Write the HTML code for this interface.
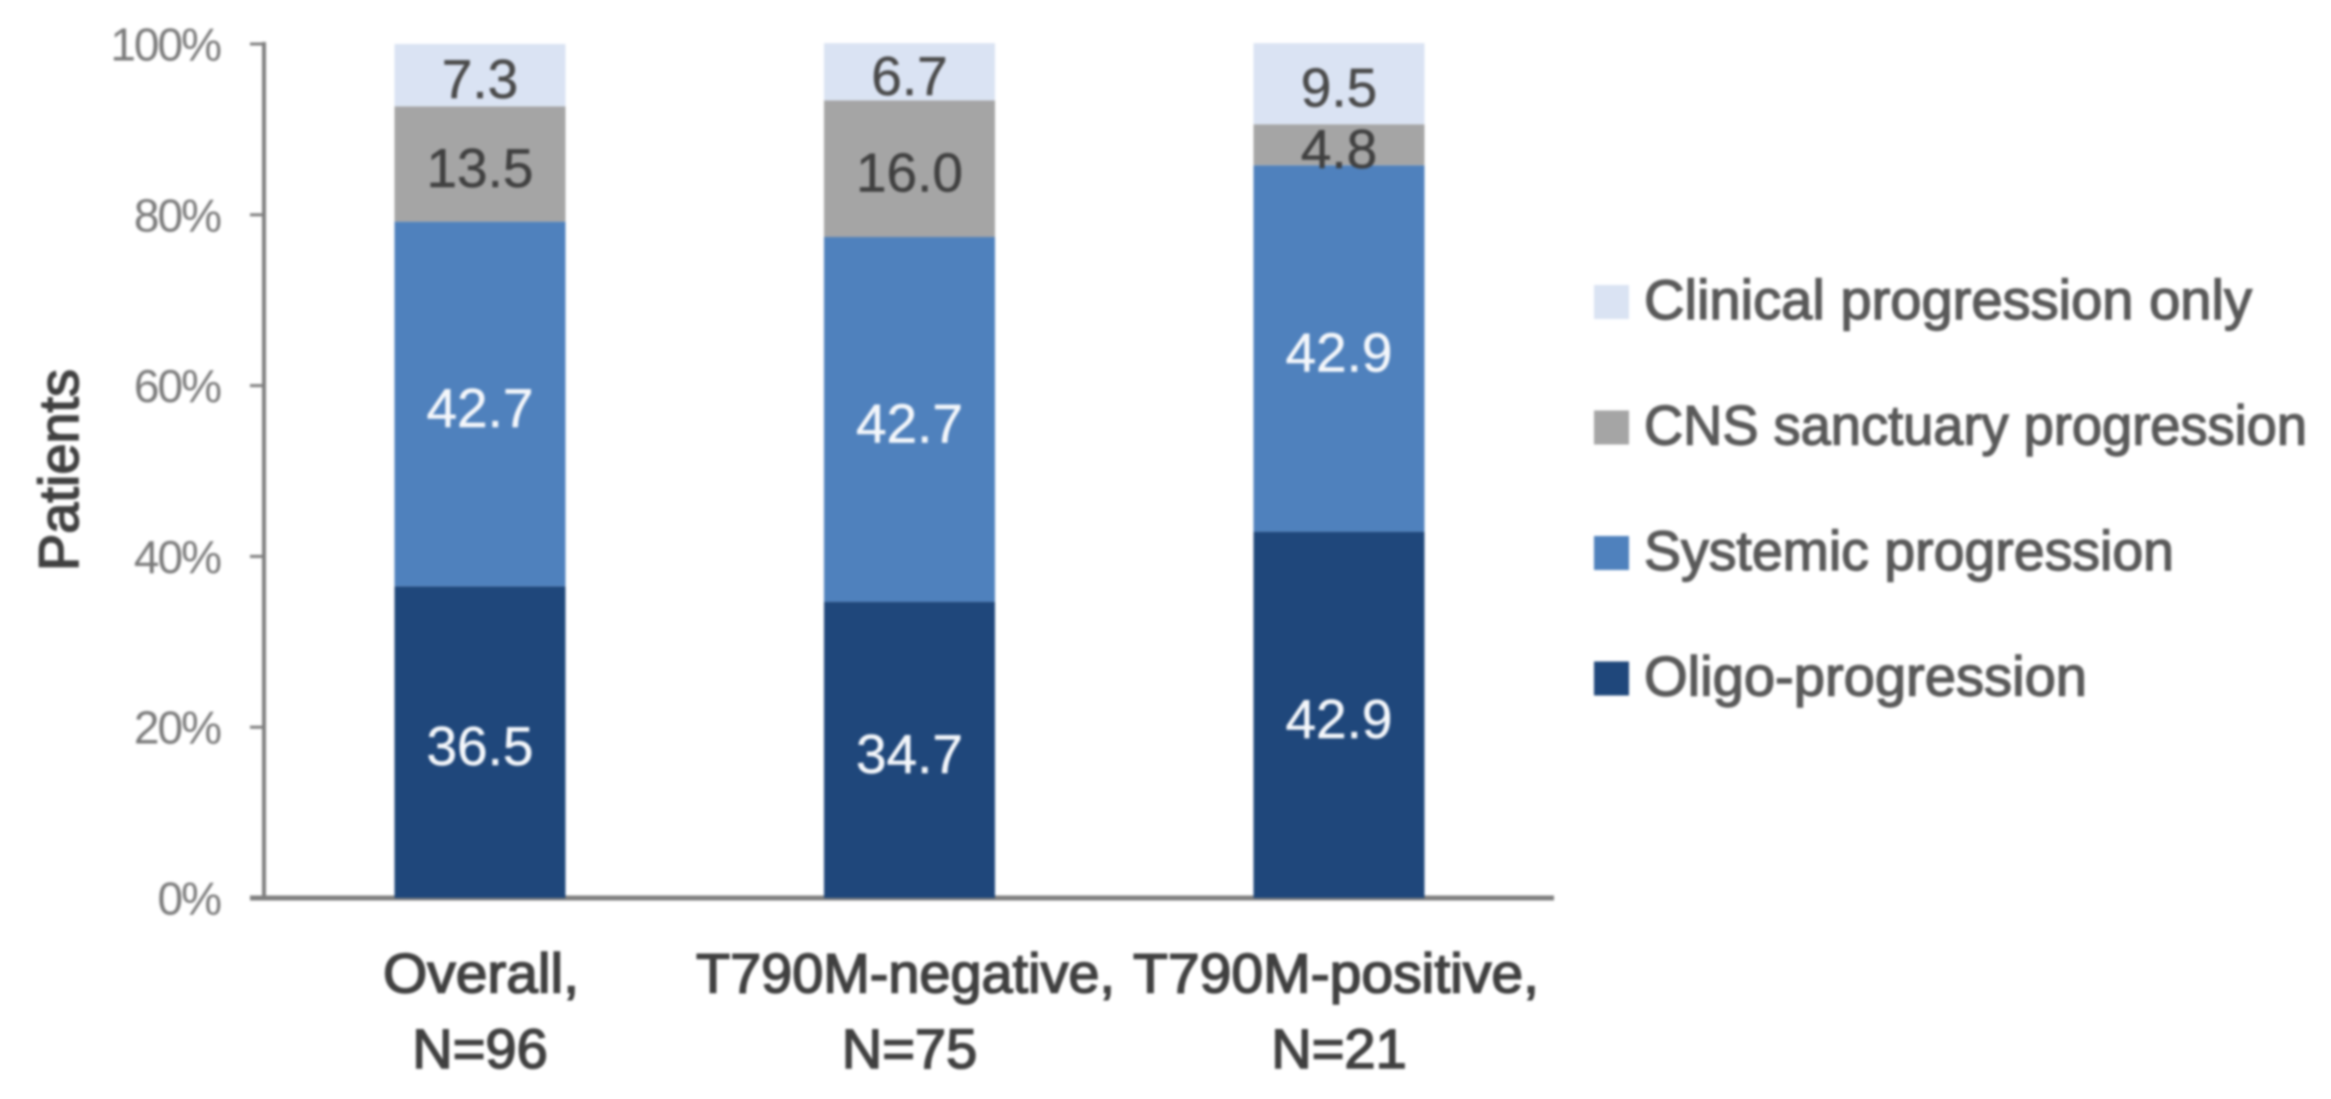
<!DOCTYPE html>
<html lang="en">
<head>
<meta charset="utf-8">
<title>Patterns of progression stacked bar chart</title>
<style>
html,body{margin:0;padding:0;background:#fff;}
body{width:2331px;height:1099px;overflow:hidden;}
svg{display:block;filter:blur(1.2px);font-family:"Liberation Sans",sans-serif;}
</style>
</head>
<body>
<svg id="chart" width="2331" height="1099" viewBox="0 0 2331 1099" xmlns="http://www.w3.org/2000/svg">
  <rect x="0" y="0" width="2331" height="1099" fill="#ffffff"/>
  <g id="axes"></g>
  <g id="bars"></g>
  <g id="value-labels"></g>
  <g id="category-labels"></g>
  <g id="legend"></g>
  <text transform="translate(78,470) rotate(-90)" text-anchor="middle" font-size="56" textLength="202" lengthAdjust="spacingAndGlyphs" fill="#404040" stroke="#404040" stroke-width="1.6">Patients</text>
</svg>
<script>
const categories = ['Overall,', 'T790M-negative,', 'T790M-positive,'];
const sampleSizes = ['N=96', 'N=75', 'N=21'];
const seriesNames = ['Oligo-progression', 'Systemic progression', 'CNS sanctuary progression', 'Clinical progression only'];
const oligoValues = [36.5, 34.7, 42.9];
const systemicValues = [42.7, 42.7, 42.9];
const cnsValues = [13.5, 16.0, 4.8];
const clinicalValues = [7.3, 6.7, 9.5];
const tickValues = [0, 20, 40, 60, 80, 100];
const tickLabels = ['0%', '20%', '40%', '60%', '80%', '100%'];

const seriesValues = [oligoValues, systemicValues, cnsValues, clinicalValues];
const seriesColors = ['#1f477b', '#4f81bd', '#a5a5a5', '#dae3f3'];
const seriesTextColors = ['#f4f7fb', '#f4f7fb', '#404040', '#4a4a4a'];
const seriesKeys = ['oligo', 'systemic', 'cns', 'clinical'];

/* Layout styling only: rendered text widths and nudges tuned to the reference typeface. */
const LAYOUT = {
  legendWidth: {oligo: 443, systemic: 530, cns: 663, clinical: 608},
  categoryWidth: [196, 419, 406],
  categoryNudge: [1, -4, -3]
};

const NS = 'http://www.w3.org/2000/svg';
const BAR_WIDTH = 171;
const yScale = v => 898 - v * 8.54;
const xScale = i => 480 + i * 429.5;

function make(tag, attrs, parent, text) {
  const el = document.createElementNS(NS, tag);
  for (const k in attrs) el.setAttribute(k, attrs[k]);
  if (text !== undefined) el.textContent = text;
  parent.appendChild(el);
  return el;
}

const axes = document.getElementById('axes');
const barsGroup = document.getElementById('bars');
const valuesGroup = document.getElementById('value-labels');
const catGroup = document.getElementById('category-labels');
const legendGroup = document.getElementById('legend');

const spine = make('line', {x1: 264, x2: 264, y1: yScale(100) - 2, y2: yScale(0), stroke: '#7f7f7f', 'stroke-width': 4}, axes);



const baseline = make('line', {x1: 250, x2: 1554, y1: yScale(0), y2: yScale(0), stroke: '#7f7f7f', 'stroke-width': 5}, axes);



tickValues.forEach((v, i) => {
  const tick = make('line', {x1: 250, x2: 264, y1: yScale(v), y2: yScale(v), stroke: '#7f7f7f', 'stroke-width': 3}, axes);
  
  
  const label = make('text', {x: 220, y: yScale(v) + 16.5, 'text-anchor': 'end', 'font-size': 46, 'letter-spacing': -2, fill: '#7a7a7a'}, axes, tickLabels[i]);
  
  
});

categories.forEach((cat, i) => {
  let cumulative = 0;
  seriesValues.forEach((values, s) => {
    const v = values[i];
    const bottom = yScale(cumulative);
    const top = yScale(cumulative + v);
    cumulative += v;
    const bar = make('rect', {x: xScale(i) - BAR_WIDTH / 2, y: top, width: BAR_WIDTH, height: bottom - top, fill: seriesColors[s]}, barsGroup);
    
    
    const label = make('text', {x: xScale(i), y: (top + bottom) / 2 + 23, 'text-anchor': 'middle', 'font-size': 55, fill: seriesTextColors[s], stroke: seriesTextColors[s], 'stroke-width': 0.5}, valuesGroup, v.toFixed(1));
    
    
  });
  const catLabel = make('text', {x: xScale(i) + LAYOUT.categoryNudge[i], y: 992.5, 'text-anchor': 'middle', 'font-size': 56, textLength: LAYOUT.categoryWidth[i], lengthAdjust: 'spacingAndGlyphs', fill: '#404040', stroke: '#404040', 'stroke-width': 1.6}, catGroup, cat);
  
  
  const nLabel = make('text', {x: xScale(i), y: 1068, 'text-anchor': 'middle', 'font-size': 56, fill: '#404040', stroke: '#404040', 'stroke-width': 1.6}, catGroup, sampleSizes[i]);
  
  
});

[3, 2, 1, 0].forEach((s, row) => {
  const cy = 302 + row * 125.5;
  const swatch = make('rect', {x: 1594, y: cy - 17, width: 35, height: 34, fill: seriesColors[s]}, legendGroup);
  
  
  const entry = make('text', {x: 1644, y: cy + 17, 'font-size': 56, textLength: LAYOUT.legendWidth[seriesKeys[s]], lengthAdjust: 'spacingAndGlyphs', fill: '#595959', stroke: '#595959', 'stroke-width': 1.4}, legendGroup, seriesNames[s]);
  
  
});
</script>
</body>
</html>
